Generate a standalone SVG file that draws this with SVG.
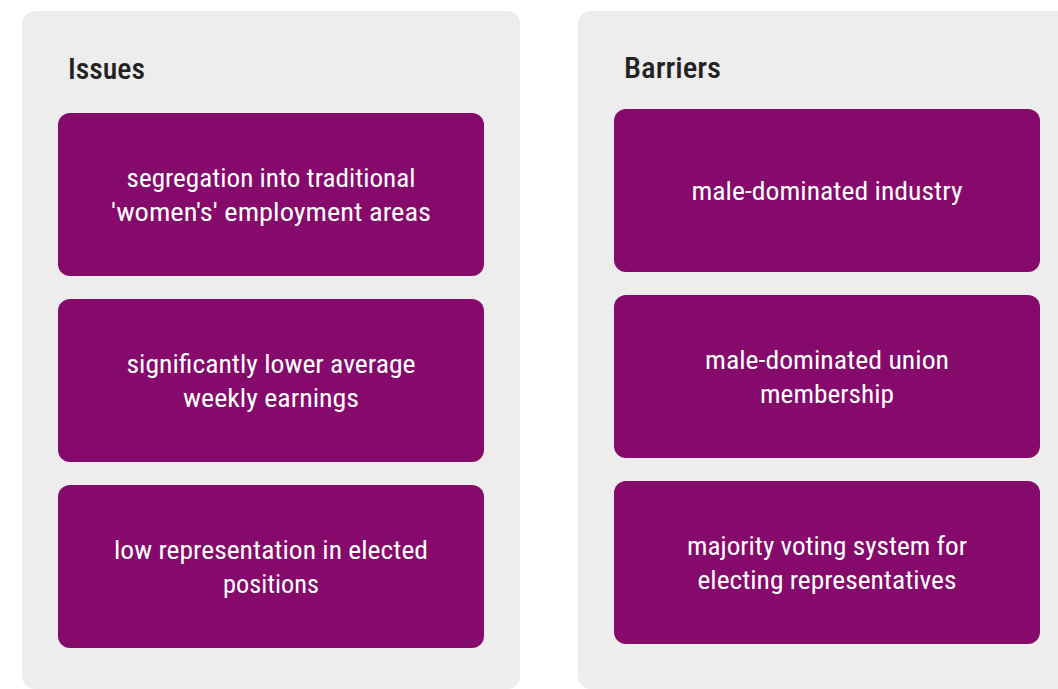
<svg xmlns="http://www.w3.org/2000/svg" width="1058" height="689" viewBox="0 0 1058 689">
<style>
.panel{fill:#ededed}
.box{fill:#850a6b}
.title{font-family:"Liberation Sans Narrow","Roboto Condensed","DejaVu Sans Condensed",sans-serif;font-stretch:condensed;font-size:30px;font-weight:500;fill:#222}
.lbl{font-family:"Liberation Sans Narrow","Roboto Condensed","DejaVu Sans Condensed",sans-serif;font-stretch:condensed;font-size:26px;fill:#fff;text-anchor:middle}
</style>
<rect width="1058" height="689" fill="#fff"/>
<g id="issues">
<rect class="panel" x="22" y="11" width="498" height="678" rx="13"/>
<text class="title" x="68" y="79" textLength="77" lengthAdjust="spacingAndGlyphs">Issues</text>
</g>
<g id="barriers">
<rect class="panel" x="578" y="11" width="500" height="678" rx="13"/>
<text class="title" x="624" y="78" textLength="97" lengthAdjust="spacingAndGlyphs">Barriers</text>
</g>
<g id="issue1">
<rect class="box" x="58" y="113" width="426" height="163" rx="12"/>
<text class="lbl" x="271" y="187" textLength="289" lengthAdjust="spacingAndGlyphs">segregation into traditional</text>
<text class="lbl" x="271" y="221" textLength="320" lengthAdjust="spacingAndGlyphs">'women's' employment areas</text>
</g>
<g id="issue2">
<rect class="box" x="58" y="299" width="426" height="163" rx="12"/>
<text class="lbl" x="271" y="373" textLength="289" lengthAdjust="spacingAndGlyphs">significantly lower average</text>
<text class="lbl" x="271" y="407" textLength="176" lengthAdjust="spacingAndGlyphs">weekly earnings</text>
</g>
<g id="issue3">
<rect class="box" x="58" y="485" width="426" height="163" rx="12"/>
<text class="lbl" x="271" y="559" textLength="314" lengthAdjust="spacingAndGlyphs">low representation in elected</text>
<text class="lbl" x="271" y="593" textLength="96" lengthAdjust="spacingAndGlyphs">positions</text>
</g>
<g id="barrier1">
<rect class="box" x="614" y="109" width="426" height="163" rx="12"/>
<text class="lbl" x="827" y="200" textLength="271" lengthAdjust="spacingAndGlyphs">male-dominated industry</text>
</g>
<g id="barrier2">
<rect class="box" x="614" y="295" width="426" height="163" rx="12"/>
<text class="lbl" x="827" y="369" textLength="244" lengthAdjust="spacingAndGlyphs">male-dominated union</text>
<text class="lbl" x="827" y="403" textLength="134" lengthAdjust="spacingAndGlyphs">membership</text>
</g>
<g id="barrier3">
<rect class="box" x="614" y="481" width="426" height="163" rx="12"/>
<text class="lbl" x="827" y="555" textLength="280" lengthAdjust="spacingAndGlyphs">majority voting system for</text>
<text class="lbl" x="827" y="589" textLength="259" lengthAdjust="spacingAndGlyphs">electing representatives</text>
</g>
<g id="connectors"/>
</svg>
